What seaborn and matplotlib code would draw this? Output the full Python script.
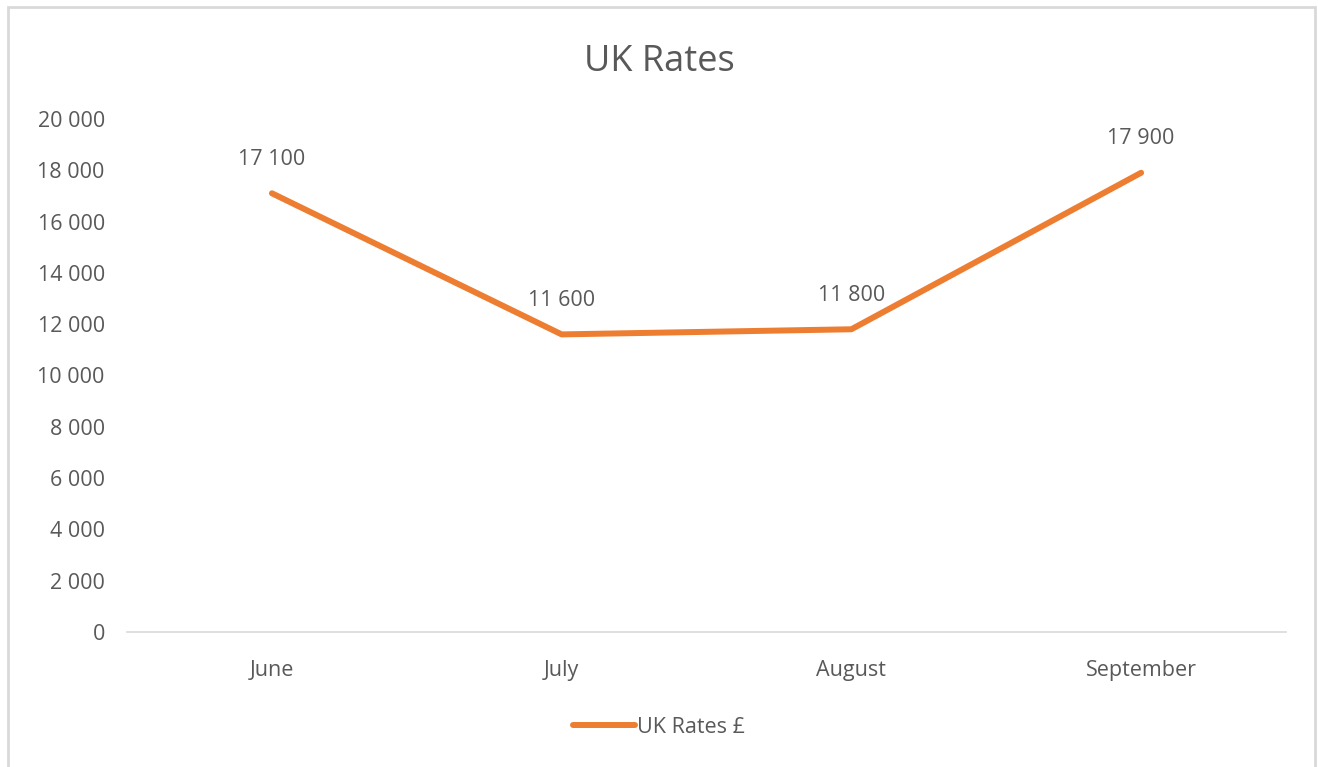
import pandas as pd
import seaborn as sns
import matplotlib.pyplot as plt
from matplotlib.patches import Rectangle

# chart data
months = ['June', 'July', 'August', 'September']
rates = [17100, 11600, 11800, 17900]
series_name = 'UK Rates £'
y_ticks = [0, 2000, 4000, 6000, 8000, 10000, 12000, 14000, 16000, 18000, 20000]

df = pd.DataFrame({'Month': months, series_name: rates})

sns.set_style('white')
plt.rcParams['font.family'] = ['Open Sans', 'DejaVu Sans']

text_col = '#595959'
orange = '#ED7D31'

def fmt(v):
    return f'{v:,}'.replace(',', ' ')

fig = plt.figure(figsize=(13.18, 7.67), dpi=100)
ax = fig.add_axes([0.0964, 0.176, 0.8793, 0.669])

sns.lineplot(data=df, x='Month', y=series_name, ax=ax, color=orange,
             linewidth=4.3, solid_capstyle='round', solid_joinstyle='round',
             label=series_name, sort=False)

ax.set_xlim(-0.5, len(months) - 0.5)
ax.set_ylim(0, 20000)
ax.set_yticks(y_ticks)
ax.set_yticklabels([fmt(t) for t in y_ticks])
ax.tick_params(axis='y', length=0, pad=16, labelsize=15.5, labelcolor=text_col)
ax.tick_params(axis='x', length=0, pad=20, labelsize=15.5, labelcolor=text_col)
ax.set_xlabel('')
ax.set_ylabel('')

for s in ['top', 'right', 'left']:
    ax.spines[s].set_visible(False)
ax.spines['bottom'].set_color('#d9d9d9')
ax.spines['bottom'].set_linewidth(1.2)

# data labels
for i, v in enumerate(rates):
    ax.annotate(fmt(v), (i, v), xytext=(0, 24.5), textcoords='offset points',
                ha='center', va='center', fontsize=15.5, color=text_col)

ax.get_legend().remove()
handles, labels = ax.get_legend_handles_labels()
fig.legend(handles, labels, loc='center', bbox_to_anchor=(0.5, 0.052),
           frameon=False, fontsize=15.5, labelcolor=text_col,
           handlelength=2.9, handletextpad=0.1)

fig.text(0.5, 0.919, 'UK Rates', ha='center', va='center',
         fontsize=26, color=text_col)

# chart border
fig.patches.append(Rectangle((0.006, -0.02), 0.992, 1.011, transform=fig.transFigure,
                             fill=False, edgecolor='#d9d9d9', linewidth=2))

fig.savefig('out.png', dpi=100)
